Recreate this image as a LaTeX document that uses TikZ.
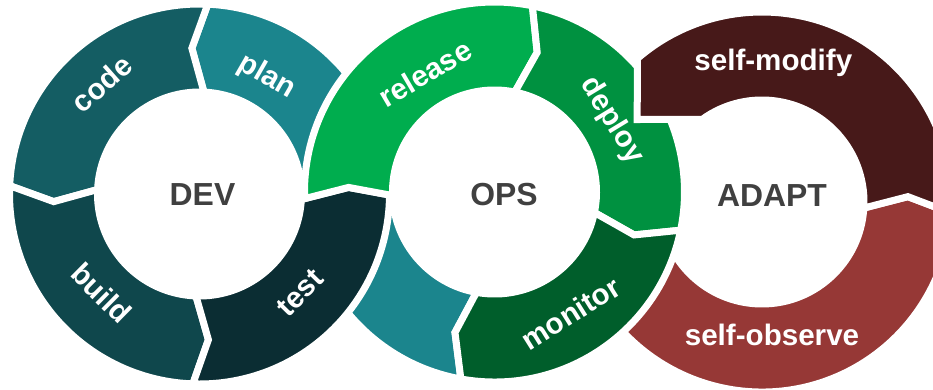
\documentclass[tikz,border=0pt]{standalone}
\usepackage{fontspec}
\setmainfont{Liberation Sans}
\usepackage{xcolor}
\definecolor{devCode}{HTML}{145D63}
\definecolor{devPlan}{HTML}{1B858D}
\definecolor{devBuild}{HTML}{0F474C}
\definecolor{devTest}{HTML}{0B2D33}
\definecolor{opsRelease}{HTML}{00AD4E}
\definecolor{opsDeploy}{HTML}{009140}
\definecolor{opsMonitor}{HTML}{005E2B}
\colorlet{opsLoop}{devPlan}
\definecolor{adaptModify}{HTML}{471919}
\definecolor{adaptObserve}{HTML}{963836}
\definecolor{hubText}{HTML}{404040}
\usepackage{tikz}
\usetikzlibrary{calc}
\tikzset{
    segment/.style={
        draw=white,
        line width=7bp,
        line join=miter
    },
    seglabel/.style={
        text=white,
        font=\fontsize{29.7}{34}\selectfont\bfseries,
        inner sep=0pt
    },
    hub/.style={
        text=hubText,
        font=\fontsize{32}{38}\selectfont\bfseries,
        inner sep=0pt
    }
}
% ring radii: outer, chevron tip, inner
\newcommand{\ringout}{190}
\newcommand{\ringmid}{146}
\newcommand{\ringin}{102}
% chevron segment: centre, from, to, tail offset, head offset, colour
\newcommand{\ringseg}[6]{%
    \fill[segment, fill=#6, shift={(#1)}]
        (#2:\ringout) arc[start angle=#2, end angle=#3, radius=\ringout]
        -- ({#3+(#5)}:\ringmid) -- (#3:\ringin)
        arc[start angle=#3, end angle=#2, radius=\ringin]
        -- ({#2+(#4)}:\ringmid) -- cycle;
}

\begin{document}
\begin{tikzpicture}[x=1bp, y=1bp]
    \clip (0,0) rectangle (933,389);

    % ring centres
    \coordinate (dev) at (199.5,195);
    \coordinate (ops) at (494.5,197);
    \coordinate (adapt) at (762,187);

    % chevron shared by test and release
    \coordinate (ja) at ($(ops)+(182:\ringout)$);
    \coordinate (jv) at ($(ops)+(178.2:\ringmid)$);
    \coordinate (jb) at ($(ops)+(182:\ringin)$);

    % DEV ring, anticlockwise
    \ringseg{dev}{-1.5}{87.5}{5.5}{5.5}{devPlan}
    \ringseg{dev}{87.5}{177.5}{5.5}{5.5}{devCode}
    \ringseg{dev}{177.5}{268}{5.5}{5.5}{devBuild}

    % lower left of OPS goes under test
    \ringseg{ops}{-100.2}{-178}{-5.5}{-3.8}{opsLoop}
    \fill[segment, fill=devTest]
        ($(dev)+(268:\ringout)$) arc[start angle=268, end angle=358.5, radius=\ringout]
        -- (jb) -- (jv) -- (ja) -- ($(dev)+(358.5:\ringin)$)
        arc[start angle=358.5, end angle=268, radius=\ringin]
        -- ($(dev)+(273.5:\ringmid)$) -- cycle;

    % OPS ring, clockwise
    \ringseg{ops}{182}{78.5}{-3.8}{-5.5}{opsRelease}
    % lower half of ADAPT goes under monitor
    \ringseg{adapt}{205}{356.6}{0}{5.5}{adaptObserve}
    \ringseg{ops}{78.5}{-11.6}{-5.5}{-5.5}{opsDeploy}
    \ringseg{ops}{-11.6}{-100.2}{-5.5}{-5.5}{opsMonitor}

    % upper half of ADAPT, square end over deploy
    \fill[segment, fill=adaptModify, shift={(adapt)}]
        (-3.4:\ringout) arc[start angle=-3.4, end angle=131, radius=\ringout]
        -- (-124.8,82.5) -- (126:\ringin)
        arc[start angle=126, end angle=-3.4, radius=\ringin]
        -- (2.1:\ringmid) -- cycle;

    % segment labels
    \node[seglabel, rotate=41.5] (lblcode) at ($(dev)+(131.5:147.7)$) {code};
    \node[seglabel, rotate=-29.9] (lblplan) at ($(dev)+(60.1:135)$) {plan};
    \node[seglabel, rotate=-44.6] (lblbuild) at ($(dev)+(225.4:139.4)$) {build};
    \node[seglabel, rotate=45.5] (lbltest) at ($(dev)+(-44.5:140.9)$) {test};
    \node[seglabel, rotate=30.4] (lblrelease) at ($(ops)+(120.4:137.6)$) {release};
    \node[seglabel, rotate=-58.7] (lbldeploy) at ($(ops)+(31.3:137.2)$) {deploy};
    \node[seglabel, rotate=32.1] (lblmonitor) at ($(ops)+(-57.9:143.2)$) {monitor};
    \node[seglabel] (lblmodify) at (773.3,326) {self-modify};
    \node[seglabel] (lblobserve) at (772,54) {self-observe};

    % hub labels
    \node[hub] (devhub) at (202.5,194) {DEV};
    \node[hub] (opshub) at (504,194) {OPS};
    \node[hub] (adapthub) at (772,193) {ADAPT};
\end{tikzpicture}
\end{document}
